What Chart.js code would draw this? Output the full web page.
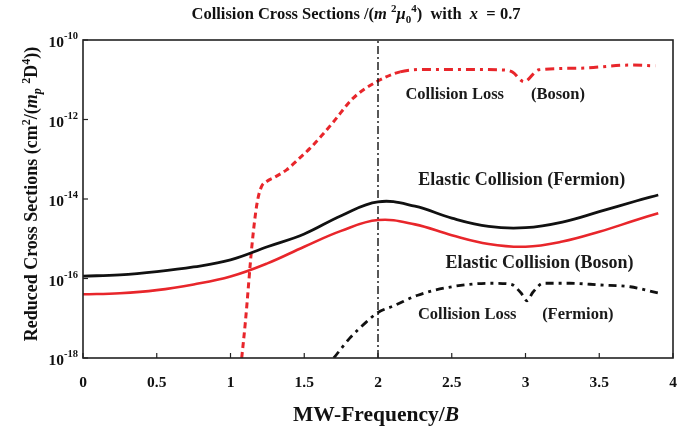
<!DOCTYPE html>
<html><head><meta charset="utf-8">
<script src="https://cdn.jsdelivr.net/npm/chart.js@4.4.1/dist/chart.umd.min.js"></script>
<style>html,body{margin:0;padding:0;background:#fff;}#wrap{width:699px;height:430px;}</style>
</head><body><div id="wrap"><canvas id="c" width="699" height="430"></canvas></div>
<script>
// ---- data ----
const elasticX = [0,0.25,0.5,0.75,1,1.25,1.5,1.75,2,2.25,2.5,2.75,3,3.25,3.5,3.75,3.9];
const elasticFermion = [1.15e-16,1.23e-16,1.48e-16,1.95e-16,2.95e-16,6.3e-16,1.32e-15,3.8e-15,8.5e-15,6.6e-15,3.3e-15,2.04e-15,1.9e-15,2.63e-15,4.8e-15,8.9e-15,1.26e-14];
const elasticBoson = [4.0e-17,4.27e-17,5.1e-17,7.1e-17,1.12e-16,2.4e-16,6.3e-16,1.58e-15,2.95e-15,2.3e-15,1.23e-15,7.4e-16,6.3e-16,8.5e-16,1.5e-15,2.95e-15,4.4e-15];
const lossFermionX = [1.70,1.81,1.92,2.0,2.1,2.27,2.5,2.76,2.9,2.97,3.01,3.05,3.12,3.3,3.5,3.71,3.9];
const lossFermion = [1e-18,3.2e-18,8e-18,1.4e-17,2.0e-17,3.8e-17,6.2e-17,7.6e-17,7.2e-17,4.3e-17,2.75e-17,4.5e-17,7.6e-17,7.6e-17,6.9e-17,6.2e-17,4.3e-17];
const lossBosonX = [1.076,1.10,1.147,1.18,1.21,1.245,1.30,1.38,1.46,1.54,1.62,1.70,1.83,1.99,2.15,2.33,2.6,2.82,2.91,2.99,3.09,3.36,3.71,3.88];
const lossBoson = [1e-18,7.4e-18,7.8e-16,7.8e-15,2.04e-14,2.75e-14,3.55e-14,5.4e-14,1.0e-13,1.9e-13,4.0e-13,8.9e-13,3.4e-12,8.9e-12,1.58e-11,1.82e-11,1.82e-11,1.78e-11,1.58e-11,8.9e-12,1.78e-11,1.95e-11,2.34e-11,2.24e-11];
const vLineX = [2,2];
const vLineY = [1e-18,1e-10];
const xTicks = [0,0.5,1,1.5,2,2.5,3,3.5,4];
const yTickExps = [-10,-12,-14,-16,-18];
const labels = [
  {text:'Collision Loss', x:2.52, y:4.2e-12, size:16.5},
  {text:'(Boson)', x:3.22, y:4.2e-12, size:16.5},
  {text:'Elastic Collision (Fermion)', x:2.975, y:3.0e-14, size:18},
  {text:'Elastic Collision (Boson)', x:3.095, y:2.4e-16, size:18},
  {text:'Collision Loss', x:2.605, y:1.25e-17, size:16.5},
  {text:'(Fermion)', x:3.355, y:1.25e-17, size:16.5}
];

const RED = '#e8262b';
const SERIF = "'Liberation Serif','Times New Roman',serif";
const zip = (xs, ys) => xs.map((x,i)=>({x:x, y:ys[i]}));

function drawRich(ctx, pieces, x, y, align){
  let w = 0;
  pieces.forEach(p=>{ctx.font=(p.it?'italic ':'')+'bold '+p.size+'px '+SERIF; p.w=ctx.measureText(p.t).width; w+=p.w;});
  let cx = align==='center' ? x - w/2 : (align==='right' ? x - w : x);
  ctx.textAlign='left'; ctx.textBaseline='alphabetic';
  pieces.forEach(p=>{ctx.font=(p.it?'italic ':'')+'bold '+p.size+'px '+SERIF; ctx.fillText(p.t, cx, y+(p.dy||0)); cx+=p.w;});
}

const decor = {
  id:'decor',
  afterDatasetsDraw(chart){
    const ctx = chart.ctx, a = chart.chartArea, xs = chart.scales.x, ys = chart.scales.y;
    ctx.save();
    ctx.strokeStyle='#222'; ctx.lineWidth=1.6; ctx.setLineDash([]);
    ctx.strokeRect(a.left, a.top, a.right-a.left, a.bottom-a.top);
    ctx.lineWidth=1.2;
    ctx.fillStyle='#111';
    xTicks.forEach(v=>{
      const px = xs.getPixelForValue(v);
      ctx.beginPath(); ctx.moveTo(px, a.bottom); ctx.lineTo(px, a.bottom-5); ctx.stroke();
      ctx.font='bold 15.5px '+SERIF; ctx.textAlign='center'; ctx.textBaseline='middle';
      ctx.fillText(String(v), px, a.bottom+25);
    });
    yTickExps.forEach(e=>{
      const py = ys.getPixelForValue(Math.pow(10,e));
      ctx.beginPath(); ctx.moveTo(a.left, py); ctx.lineTo(a.left+5, py); ctx.stroke();
      drawRich(ctx,[{t:'10',size:15.5},{t:'-'+Math.abs(e),size:10.5,dy:-8}], a.left-5, py+7, 'right');
    });
    // annotations
    ctx.fillStyle='#1a1a1a';
    labels.forEach(l=>{
      ctx.font='bold '+l.size+'px '+SERIF; ctx.textAlign='center'; ctx.textBaseline='middle';
      ctx.fillText(l.text, xs.getPixelForValue(l.x), ys.getPixelForValue(l.y));
    });
    // title
    ctx.fillStyle='#111';
    drawRich(ctx,[
      {t:'Collision Cross Sections /(',size:16.5},
      {t:'m',size:16.5,it:true},{t:' ',size:16.5},{t:'2',size:11,dy:-7},
      {t:'\u03BC',size:16.5,it:true},{t:'0',size:11,dy:4},{t:'4',size:11,dy:-7},
      {t:')  with  ',size:16.5},{t:'x',size:16.5,it:true},{t:'  = 0.7',size:16.5}
    ], 356, 19, 'center');
    // x title
    drawRich(ctx,[{t:'MW-Frequency/',size:21.5},{t:'B',size:21.5,it:true}], 376, 421, 'center');
    // y title
    ctx.save();
    ctx.translate(37, 194);
    ctx.rotate(-Math.PI/2);
    drawRich(ctx,[
      {t:'Reduced Cross Sections (cm',size:18},{t:'2',size:12,dy:-7},{t:'/(',size:18},
      {t:'m',size:18,it:true},{t:'p',size:12,it:true,dy:4},{t:' ',size:18},{t:'2',size:12,dy:-7},
      {t:'D',size:18},{t:'4',size:12,dy:-7},{t:'))',size:18}
    ], 0, 0, 'center');
    ctx.restore();
    ctx.restore();
  }
};

new Chart(document.getElementById('c'), {
  type:'line',
  data:{datasets:[
    {label:'vline', data:zip(vLineX,vLineY), borderColor:'#111', borderWidth:1.4, borderDash:[8,3,2,3], pointRadius:0, tension:0},
    {label:'Elastic Collision (Fermion)', data:zip(elasticX,elasticFermion), borderColor:'#111', borderWidth:2.8, pointRadius:0, tension:0.4},
    {label:'Elastic Collision (Boson)', data:zip(elasticX,elasticBoson), borderColor:RED, borderWidth:2.6, pointRadius:0, tension:0.4},
    {label:'Collision Loss (Fermion)', data:zip(lossFermionX,lossFermion), borderColor:'#111', borderWidth:2.8, borderDash:[8,5,3,5], pointRadius:0, cubicInterpolationMode:'monotone'},
    {label:'Collision Loss (Boson)', data:zip(lossBosonX,lossBoson), borderColor:RED, borderWidth:3, pointRadius:0, cubicInterpolationMode:'monotone',
      segment:{borderDash: c => c.p0.parsed.x >= 2 ? [9,5,3,5] : [6,4]}}
  ]},
  options:{
    responsive:false, animation:false,
    layout:{padding:{left:83,right:26,top:40,bottom:72}},
    plugins:{legend:{display:false}, tooltip:{enabled:false}, title:{display:false}},
    scales:{
      x:{type:'linear', min:0, max:4, display:false},
      y:{type:'logarithmic', min:1e-18, max:1e-10, display:false}
    }
  },
  plugins:[decor]
});
</script>
</body></html>
